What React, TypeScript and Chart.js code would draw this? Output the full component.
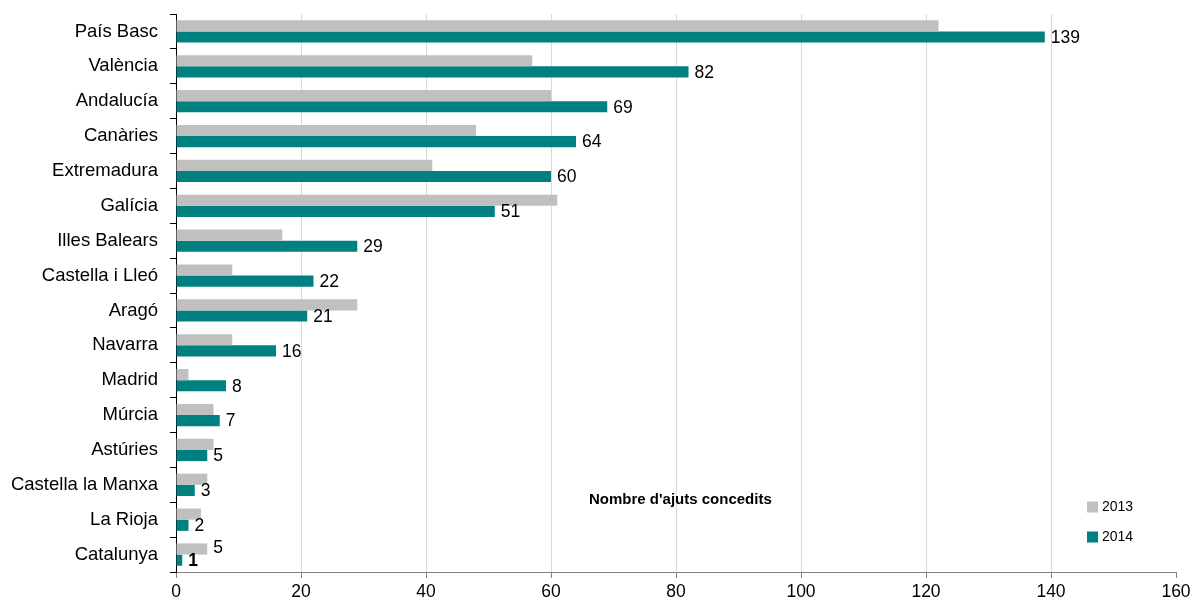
import React, { useEffect, useRef } from "react";
import { Chart, registerables } from "chart.js";

Chart.register(...registerables);

const categories = [
  "País Basc",
  "València",
  "Andalucía",
  "Canàries",
  "Extremadura",
  "Galícia",
  "Illes Balears",
  "Castella i Lleó",
  "Aragó",
  "Navarra",
  "Madrid",
  "Múrcia",
  "Astúries",
  "Castella la Manxa",
  "La Rioja",
  "Catalunya",
];
const values2013 = [122, 57, 60, 48, 41, 61, 17, 9, 29, 9, 2, 6, 6, 5, 4, 5];
const values2014 = [139, 82, 69, 64, 60, 51, 29, 22, 21, 16, 8, 7, 5, 3, 2, 1];
const show2013Label = [false, false, false, false, false, false, false, false, false, false, false, false, false, false, false, true];
const bold2014Label = [false, false, false, false, false, false, false, false, false, false, false, false, false, false, false, true];
const seriesNames = ["2013", "2014"];
const xMin = 0;
const xMax = 160;
const xStep = 20;
const chartTitle = "Nombre d'ajuts concedits";

const COLOR_2013 = "#C0C0C0";
const COLOR_2014 = "#008080";
const FONT = "'Liberation Sans', Arial, Helvetica, sans-serif";

const overlayPlugin = {
  id: "overlay",
  afterDatasetsDraw(chart: any) {
    const ctx = chart.ctx;
    ctx.save();
    ctx.textBaseline = "middle";
    ctx.textAlign = "left";
    ctx.fillStyle = "#000";
    const meta13 = chart.getDatasetMeta(0);
    const meta14 = chart.getDatasetMeta(1);
    meta14.data.forEach((bar: any, i: number) => {
      ctx.font = (bold2014Label[i] ? "bold " : "") + "17.5px " + FONT;
      ctx.fillText(String(values2014[i]), bar.x + 6, bar.y + 1);
    });
    meta13.data.forEach((bar: any, i: number) => {
      if (!show2013Label[i]) return;
      ctx.font = "17.5px " + FONT;
      ctx.fillText(String(values2013[i]), bar.x + 6, bar.y - 1);
    });
    ctx.restore();
  },
  afterDraw(chart: any) {
    const ctx = chart.ctx;
    const area = chart.chartArea;
    ctx.save();
    ctx.textBaseline = "middle";
    ctx.textAlign = "left";
    ctx.fillStyle = "#000";
    ctx.font = "bold 15px " + FONT;
    ctx.fillText(chartTitle, area.left + 413, area.top + 486);
    const colors = [COLOR_2013, COLOR_2014];
    seriesNames.forEach((name, i) => {
      const y = area.top + 493 + i * 30;
      ctx.fillStyle = colors[i];
      ctx.fillRect(area.left + 911, y - 5.5, 11, 11);
      ctx.fillStyle = "#000";
      ctx.font = "14px " + FONT;
      ctx.fillText(name, area.left + 926, y);
    });
    ctx.restore();
  },
};

function BarChart() {
  const ref = useRef<HTMLCanvasElement | null>(null);
  useEffect(() => {
    if (!ref.current) return;
    const chart = new Chart(ref.current, {
      type: "bar",
      data: {
        labels: categories,
        datasets: [
          {
            label: seriesNames[0],
            data: values2013,
            backgroundColor: COLOR_2013,
            categoryPercentage: 0.64,
            barPercentage: 1,
          },
          {
            label: seriesNames[1],
            data: values2014,
            backgroundColor: COLOR_2014,
            categoryPercentage: 0.64,
            barPercentage: 1,
          },
        ],
      },
      options: {
        indexAxis: "y",
        animation: false,
        responsive: true,
        maintainAspectRatio: false,
        layout: { padding: { left: 0, top: 14, right: 23, bottom: 0 } },
        plugins: {
          legend: { display: false },
          tooltip: { enabled: false },
          title: { display: false },
        },
        scales: {
          x: {
            min: xMin,
            max: xMax,
            ticks: {
              stepSize: xStep,
              color: "#000",
              font: { family: FONT, size: 17.5 },
              padding: 4,
            },
            grid: {
              color: (c: any) =>
                c.tick && (c.tick.value === xMin || c.tick.value === xMax) ? "rgba(0,0,0,0)" : "#D9D9D9",
              tickColor: "#808080",
              tickLength: 6,
              lineWidth: 1,
            },
            border: { color: "#808080", width: 1 },
            afterFit(scale: any) {
              scale.height = 36;
            },
          },
          y: {
            ticks: {
              color: "#000",
              font: { family: FONT, size: 18.5 },
              padding: 12,
              autoSkip: false,
            },
            grid: {
              offset: true,
              drawOnChartArea: false,
              tickColor: "#000",
              tickLength: 6,
            },
            border: { color: "#000", width: 1 },
            afterFit(scale: any) {
              scale.width = 176;
              scale.paddingTop = 0;
              scale.paddingBottom = 0;
            },
          },
        },
      },
      plugins: [overlayPlugin],
    } as any);
    return () => chart.destroy();
  }, []);
  return <canvas ref={ref} />;
}

export default function App() {
  return (
    <div
      style={{
        position: "absolute",
        left: 0,
        top: 0,
        width: 1199,
        height: 608,
        background: "#fff",
      }}
    >
      <BarChart />
    </div>
  );
}
